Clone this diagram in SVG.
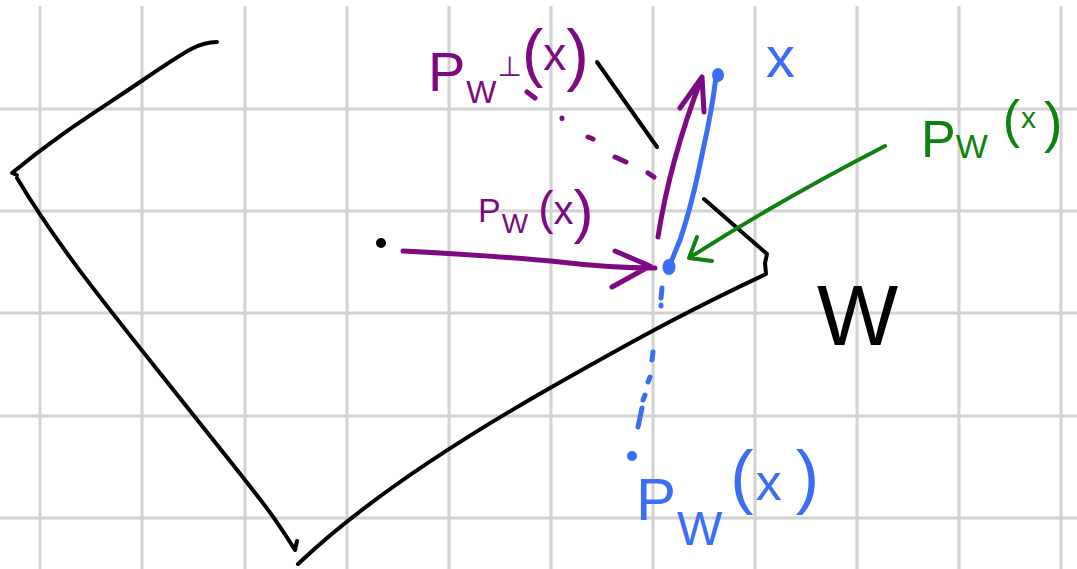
<svg xmlns="http://www.w3.org/2000/svg" width="1077" height="569" viewBox="0 0 1077 569">
<style>
.grid line{stroke:#d2d2d2;stroke-width:3}
.ink{fill:none;stroke-linecap:round;stroke-linejoin:round}
.k{stroke:#000;stroke-width:4}
.pu{stroke:#7d0a80;stroke-width:5}
.bl{stroke:#3b6ef5;stroke-width:5}
.gr{stroke:#0f810f;stroke-width:4}
text{font-family:"Liberation Sans","DejaVu Sans",sans-serif}
.tp{fill:#7d0a80}.tb{fill:#3b6ef5}.tg{fill:#0f810f}.tk{fill:#000}
</style>
<rect width="1077" height="569" fill="#fff"/>
<g class="grid">
<line x1="40" y1="6" x2="40" y2="569"/><line x1="142" y1="6" x2="142" y2="569"/><line x1="245" y1="6" x2="245" y2="569"/><line x1="347" y1="6" x2="347" y2="569"/><line x1="449" y1="6" x2="449" y2="569"/><line x1="551" y1="6" x2="551" y2="569"/><line x1="653" y1="6" x2="653" y2="569"/><line x1="755" y1="6" x2="755" y2="569"/><line x1="857" y1="6" x2="857" y2="569"/><line x1="959" y1="6" x2="959" y2="569"/><line x1="1061" y1="6" x2="1061" y2="569"/>
<line x1="0" y1="109" x2="1077" y2="109"/><line x1="0" y1="211" x2="1077" y2="211"/><line x1="0" y1="313" x2="1077" y2="313"/><line x1="0" y1="416" x2="1077" y2="416"/><line x1="0" y1="518" x2="1077" y2="518"/>
</g>
<g id="subspace-W">
<path class="ink k" d="M217,42 C200,42 190,48 143,80 S60,133 12,173 L17,175"/>
<path class="ink k" d="M17,178 C60,250 110,310 187,407 S270,510 295,550 L297,541"/>
<path class="ink k" d="M298,564 C360,505 450,445 550,388 S700,305 766,274 L765,263 L767,254 L704,199"/>
<path class="ink k" d="M597,62 L657,147"/>
<text class="tk" x="817" y="345" font-size="86">W</text>
</g>
<g id="origin"><circle cx="381" cy="243" r="5" fill="#000"/></g>
<g id="point-x">
<ellipse cx="718" cy="75" rx="6" ry="7" fill="#3b6ef5"/>
<text class="tb" x="766" y="77" font-size="58">x</text>
</g>
<g id="point-proj"><ellipse cx="669" cy="267" rx="6.5" ry="8" fill="#3b6ef5"/></g>
<g id="point-refl">
<circle cx="632" cy="456" r="5" fill="#3b6ef5"/>
<text class="tb" x="636" y="520" font-size="60">P<tspan font-size="48" dx="1" dy="25">W</tspan><tspan font-size="70" dx="8" dy="-45">(</tspan><tspan font-size="52" dx="2">x</tspan><tspan font-size="70" dx="14">)</tspan></text>
</g>
<g id="label-perp">
<text class="tp" x="428" y="91" font-size="56">P<tspan font-size="32" dx="1" dy="12">W</tspan><tspan font-size="28" dx="1" dy="-27" font-family="DejaVu Sans,sans-serif">⊥</tspan><tspan font-size="64" dx="0" dy="-1">(</tspan><tspan font-size="46" dx="0" dy="-5">x</tspan><tspan font-size="68" dx="0" dy="8">)</tspan></text>
</g>
<g id="label-proj-purple">
<text class="tp" x="478" y="222" font-size="34">P<tspan font-size="28" dx="1" dy="11">W</tspan><tspan font-size="46" dx="10" dy="-9">(</tspan><tspan font-size="40" dx="0">x</tspan><tspan font-size="60" dx="0" dy="8">)</tspan></text>
</g>
<g id="label-proj-green">
<text class="tg" x="921" y="157" font-size="52">P<tspan font-size="34" dx="0" dy="1">W</tspan><tspan font-size="52" dx="15" dy="-21">(</tspan><tspan font-size="30" dx="1" dy="-9">x</tspan><tspan font-size="56" dx="8" dy="13">)</tspan></text>
</g>
<g id="connectors">
<path class="ink bl" d="M716,77 Q712,110 703,150 Q692,205 680,240 L671,262"/>
<path class="ink bl" d="M662,288 L661,298 M661,305 L661,306 M653,352 L652,360 M650,377 L648,382 M645,395 L643,400 M642,408 L638,427"/>
<path class="ink pu" d="M403,251 Q500,256 560,262 Q610,268 655,268 M615,251 L650,266 L612,287"/>
<path class="ink pu" d="M658,237 Q670,160 702,77 M680,108 L702,77 L704,112"/>
<path class="ink pu" stroke-width="4" d="M527,92 L535,98 M562,118 L562,118.5 M588,137 L593,139 M615,157 L626,162 M648,173 L654,177"/>
<path class="ink gr" d="M885,146 Q780,200 689,258 M697,237 L689,258 L712,261"/>
</g>
</svg>
